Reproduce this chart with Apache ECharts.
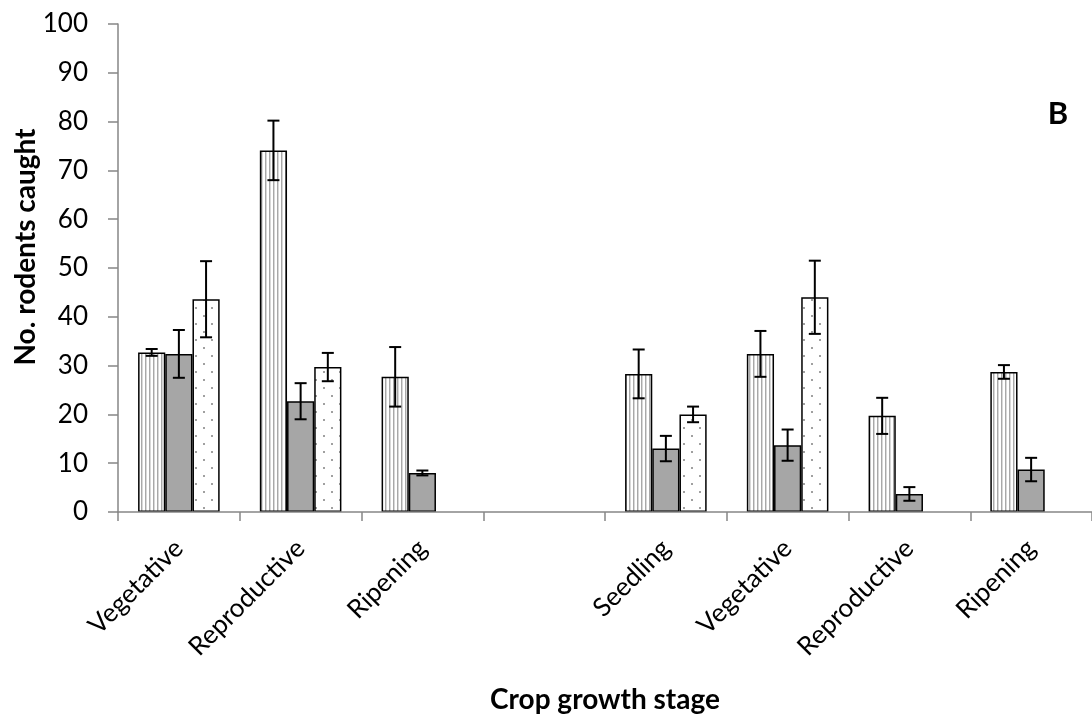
<!DOCTYPE html>
<html>
<head>
<meta charset="utf-8">
<script src="https://cdn.jsdelivr.net/npm/echarts@6/dist/echarts.min.js"></script>
<style>html,body{margin:0;padding:0;background:#fff}#chart{width:1092px;height:720px}</style>
</head>
<body>
<div id="chart"></div>
<script>
const categories = ['Vegetative', 'Reproductive', 'Ripening', '', 'Seedling', 'Vegetative', 'Reproductive', 'Ripening'];
const stripedValues = [32.7, 74.1, 27.7, null, 28.3, 32.4, 19.7, 28.7];
const stripedErrors = [0.7, 6.1, 6.1, null, 5.0, 4.7, 3.7, 1.4];
const grayValues = [32.4, 22.7, 8.0, null, 13.0, 13.7, 3.7, 8.7];
const grayErrors = [4.9, 3.7, 0.5, null, 2.6, 3.2, 1.4, 2.4];
const dottedValues = [43.6, 29.7, null, null, 20.0, 44.0, null, null];
const dottedErrors = [7.8, 2.9, null, null, 1.6, 7.5, null, null];
const yTicks = [0, 10, 20, 30, 40, 50, 60, 70, 80, 90, 100];

function stripePattern() {
  const c = document.createElement('canvas');
  c.width = 4; c.height = 4;
  const g = c.getContext('2d');
  g.fillStyle = '#ffffff'; g.fillRect(0, 0, 4, 4);
  g.fillStyle = '#a8a8a8'; g.fillRect(1, 0, 1, 4);
  g.fillStyle = '#d8d8d8'; g.fillRect(2, 0, 1, 4);
  return c;
}
function dotPattern() {
  const c = document.createElement('canvas');
  c.width = 16; c.height = 16;
  const g = c.getContext('2d');
  g.fillStyle = '#ffffff'; g.fillRect(0, 0, 16, 16);
  g.fillStyle = '#a0a0a0';
  g.fillRect(3, 3, 2, 2);
  g.fillRect(11, 11, 2, 2);
  return c;
}

const chart = echarts.init(document.getElementById('chart'), null, {renderer: 'canvas'});
const FONT = 'Lato, "Open Sans", sans-serif';
const GAP = 0.33;

function errData(vals, errs) {
  return vals.map((v, i) => v == null ? [i, null, null] : [i, v, errs[i]]);
}
function makeErr(seriesIdx, vals, errs) {
  return {
    type: 'custom',
    name: 'err' + seriesIdx,
    z: 10,
    silent: true,
    data: errData(vals, errs),
    encode: {x: 0, y: 1},
    renderItem: function (params, api) {
      const v = api.value(1);
      if (v == null || isNaN(v)) return null;
      const e = api.value(2);
      const idx = api.value(0);
      const band = api.size([1, 0])[0];
      const bw = band * (1 - GAP) / 3;
      const cx = api.coord([idx, v])[0] + (seriesIdx - 1) * bw;
      const yt = api.coord([idx, v + e])[1];
      const yb = api.coord([idx, v - e])[1];
      const cap = 6;
      const st = {stroke: '#000', lineWidth: 2};
      return {
        type: 'group',
        children: [
          {type: 'line', shape: {x1: cx, y1: yt, x2: cx, y2: yb}, style: st},
          {type: 'line', shape: {x1: cx - cap, y1: yt, x2: cx + cap, y2: yt}, style: st},
          {type: 'line', shape: {x1: cx - cap, y1: yb, x2: cx + cap, y2: yb}, style: st}
        ]
      };
    }
  };
}

const barCommon = {
  type: 'bar',
  barGap: '0%',
  barCategoryGap: (GAP * 100) + '%',
  silent: true
};

chart.setOption({
  animation: false,
  backgroundColor: '#ffffff',
  grid: {left: 118, right: 0, top: 24, bottom: 208, containLabel: false},
  xAxis: {
    type: 'category',
    data: categories,
    z: 5,
    axisLine: {lineStyle: {color: '#868686', width: 1.5}},
    axisTick: {show: true, length: 9, alignWithLabel: false, lineStyle: {color: '#868686', width: 1.5}},
    axisLabel: {rotate: 45, margin: 32, fontFamily: FONT, fontSize: 26, color: '#000', interval: 0},
    name: 'Crop growth stage',
    nameLocation: 'middle',
    nameGap: 174,
    nameTextStyle: {fontFamily: FONT, fontSize: 28, fontWeight: 'bold', color: '#000'}
  },
  yAxis: {
    type: 'value',
    min: yTicks[0],
    max: yTicks[yTicks.length - 1],
    interval: 10,
    splitLine: {show: false},
    axisLine: {show: true, lineStyle: {color: '#868686', width: 1.5}},
    axisTick: {show: true, length: 10, lineStyle: {color: '#868686', width: 1.5}},
    axisLabel: {margin: 30, fontFamily: FONT, fontSize: 26, color: '#000'}
  },
  graphic: [{
    type: 'text', x: 1058, y: 114,
    style: {text: 'B', fontFamily: FONT, fontSize: 31, fontWeight: 'bold', fill: '#000', align: 'center', verticalAlign: 'middle'}
  }, {
    type: 'text', x: 26, y: 247, rotation: Math.PI / 2,
    style: {text: 'No. rodents caught', fontFamily: FONT, fontSize: 28, fontWeight: 'bold', fill: '#000', align: 'center', verticalAlign: 'middle'}
  }],
  series: [
    Object.assign({}, barCommon, {
      name: 'Striped', data: stripedValues,
      itemStyle: {color: {image: stripePattern(), repeat: 'repeat'}, borderColor: '#000', borderWidth: 1.5}
    }),
    Object.assign({}, barCommon, {
      name: 'Gray', data: grayValues,
      itemStyle: {color: '#a6a6a6', borderColor: '#000', borderWidth: 1.5}
    }),
    Object.assign({}, barCommon, {
      name: 'Dotted', data: dottedValues,
      itemStyle: {color: {image: dotPattern(), repeat: 'repeat'}, borderColor: '#000', borderWidth: 1.5}
    }),
    makeErr(0, stripedValues, stripedErrors),
    makeErr(1, grayValues, grayErrors),
    makeErr(2, dottedValues, dottedErrors)
  ]
});
</script>
</body>
</html>
